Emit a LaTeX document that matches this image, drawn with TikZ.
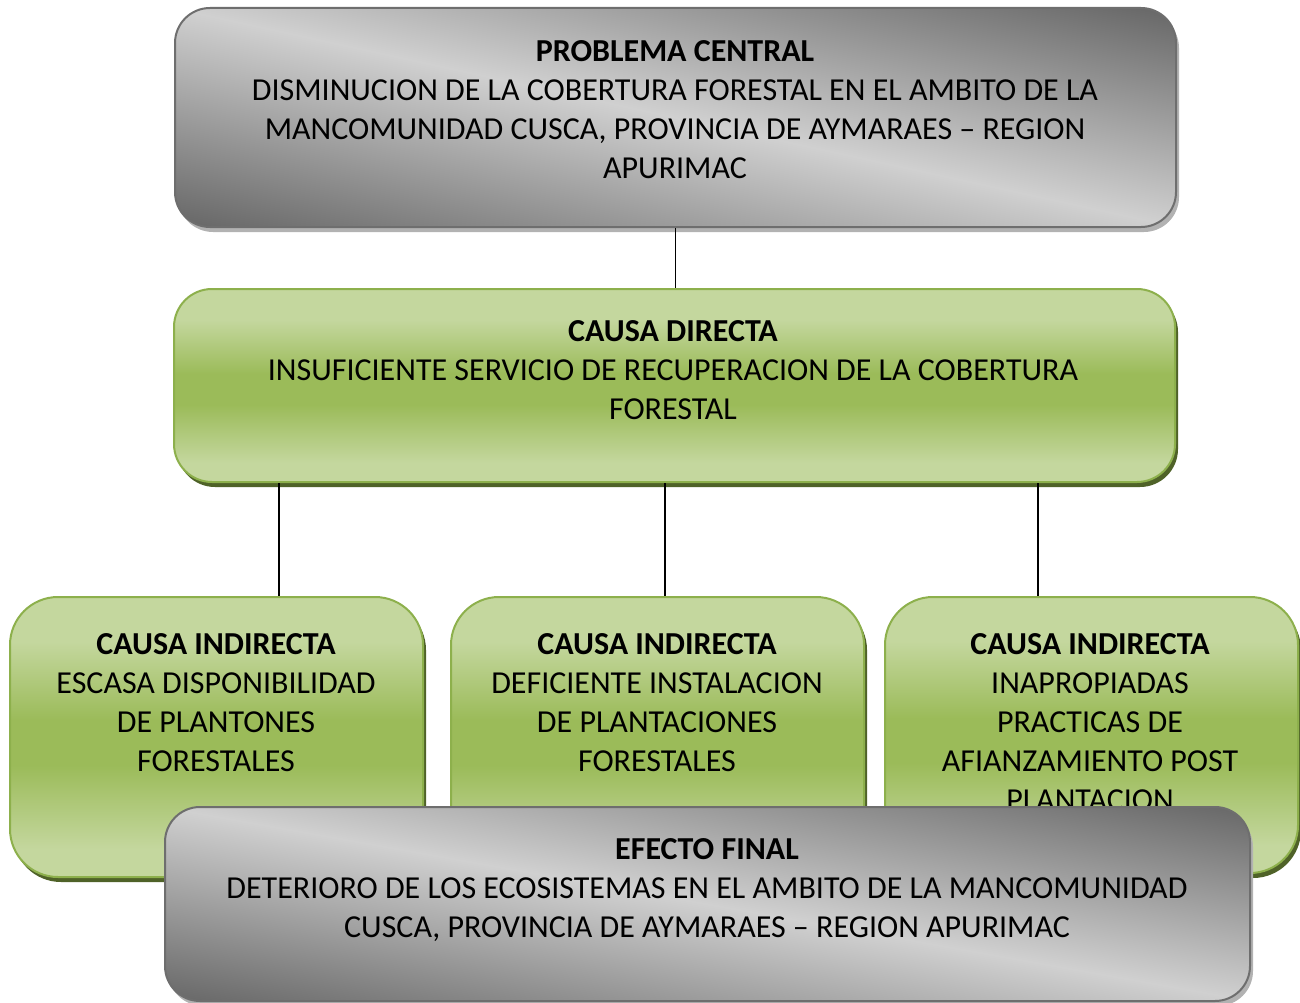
\documentclass[tikz,border=0pt]{standalone}
\usepackage{fontspec}
\setmainfont{Carlito}
\usetikzlibrary{shadows}
\definecolor{gdark}{HTML}{6A6A6A}
\definecolor{glight}{HTML}{D0D0D0}
\definecolor{gborder}{HTML}{6E6E6E}
\definecolor{vlight}{HTML}{C4D79E}
\definecolor{vmid}{HTML}{9BBB59}
\definecolor{vborder}{HTML}{8DB04C}
\definecolor{vshadow}{HTML}{4F6228}
\pgfdeclareverticalshading{greenv}{100bp}{color(0bp)=(vlight); color(30bp)=(vlight);
  color(45bp)=(vmid); color(53bp)=(vmid); color(67bp)=(vlight); color(100bp)=(vlight)}
\tikzset{
  graybox/.style 2 args={draw=gborder, line width=2pt, rounded corners=35pt,
    fill=gdark,
    drop shadow={shadow xshift=3pt, shadow yshift=-5pt, fill=black!30, opacity=1},
    path picture={
      \shade[transform canvas={rotate around={#1:(path picture bounding box.center)}},
        top color=gdark, bottom color=gdark, middle color=glight]
        ([xshift=-800pt,yshift=-#2]path picture bounding box.center)
        rectangle ([xshift=800pt,yshift=#2]path picture bounding box.center);
    },
    inner sep=0pt},
  greenbox/.style={draw=vborder, line width=2pt, rounded corners=#1,
    shade, shading=greenv,
    drop shadow={shadow xshift=3pt, shadow yshift=-5pt, fill=vshadow, opacity=1},
    inner sep=0pt},
  txt/.style={anchor=north, inner sep=0pt, align=center,
    font=\fontsize{32}{39}\selectfont},
  conn/.style={draw=black, line width=1.3pt}
}
\begin{document}
\begin{tikzpicture}[x=1pt,y=-1pt]
\useasboundingbox (0,0) rectangle (1300,1003);
% top problem box
\node[graybox={-12.3}{205pt}, minimum width=1001pt, minimum height=219pt] (pc) at (675.5,117.5) {};
\node[txt] (pct) at (675,40) {\textbf{PROBLEMA CENTRAL}\\DISMINUCION DE LA COBERTURA FORESTAL EN EL AMBITO DE LA\\MANCOMUNIDAD CUSCA, PROVINCIA DE AYMARAES -- REGION\\APURIMAC};
% direct cause
\node[greenbox=38pt, minimum width=1001pt, minimum height=193pt] (dc) at (674.5,385.5) {};
\node[txt] (dct) at (673,320) {\textbf{CAUSA DIRECTA}\\INSUFICIENTE SERVICIO DE RECUPERACION DE LA COBERTURA\\FORESTAL};
\draw[conn] (pc.south) -- (pc.south |- dc.north);
% indirect causes
\node[greenbox=48pt, minimum width=413pt, minimum height=280pt] (ci1) at (216.5,737) {};
\node[txt] (ci1t) at (216,633) {\textbf{CAUSA INDIRECTA}\\ESCASA DISPONIBILIDAD\\DE PLANTONES\\FORESTALES};
\node[greenbox=48pt, minimum width=413pt, minimum height=280pt] (ci2) at (657.5,737) {};
\node[txt] (ci2t) at (657,633) {\textbf{CAUSA INDIRECTA}\\DEFICIENTE INSTALACION\\DE PLANTACIONES\\FORESTALES};
\node[greenbox=48pt, minimum width=413pt, minimum height=276pt] (ci3) at (1091.5,735) {};
\node[txt] (ci3t) at (1090,633) {\textbf{CAUSA INDIRECTA}\\INAPROPIADAS\\PRACTICAS DE\\AFIANZAMIENTO POST\\PLANTACION};
\coordinate (k1) at (279,0);
\coordinate (k2) at (665,0);
\coordinate (k3) at (1038,0);
\draw[conn] (dc.south -| k1) -- (ci1.north -| k1);
\draw[conn] (dc.south -| k2) -- (ci2.north -| k2);
\draw[conn] (dc.south -| k3) -- (ci3.north -| k3);
% final effect
\node[graybox={-10.1}{185pt}, minimum width=1085pt, minimum height=194pt] (ef) at (707.5,904) {};
\node[txt] (eft) at (707,838) {\textbf{EFECTO FINAL}\\DETERIORO DE LOS ECOSISTEMAS EN EL AMBITO DE LA MANCOMUNIDAD\\CUSCA, PROVINCIA DE AYMARAES -- REGION APURIMAC};
\end{tikzpicture}
\end{document}
